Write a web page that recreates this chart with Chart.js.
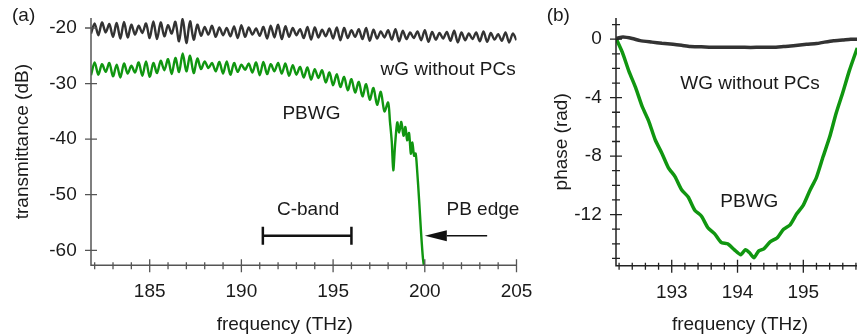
<!DOCTYPE html>
<html>
<head>
<meta charset="utf-8">
<script src="https://cdn.jsdelivr.net/npm/chart.js@4.4.1/dist/chart.umd.min.js"></script>
<style>
  html, body { margin: 0; padding: 0; background: #fff; }
  #wrap { position: relative; width: 857px; height: 335px; overflow: hidden; }
  #chartA { position: absolute; left: 0; top: 0; }
  #chartB { position: absolute; left: 530px; top: 0; }
</style>
</head>
<body>
<div id="wrap">
  <canvas id="chartA" width="540" height="335"></canvas>
  <canvas id="chartB" width="327" height="335"></canvas>
</div>
<script>
// (a) transmittance
const freqA = [
  181.8,
  182, 182.2, 182.4, 182.6, 182.8,
  183, 183.2, 183.4, 183.6, 183.8,
  184, 184.2, 184.4, 184.6, 184.8,
  185, 185.2, 185.4, 185.6, 185.8,
  186, 186.2, 186.4, 186.6, 186.8,
  187, 187.2, 187.4, 187.6, 187.8,
  188, 188.2, 188.4, 188.6, 188.8,
  189, 189.2, 189.4, 189.6, 189.8,
  190, 190.2, 190.4, 190.6, 190.8,
  191, 191.2, 191.4, 191.6, 191.8,
  192, 192.2, 192.4, 192.6, 192.8,
  193, 193.2, 193.4, 193.6, 193.8,
  194, 194.2, 194.4, 194.6, 194.8,
  195, 195.2, 195.4, 195.6, 195.8,
  196, 196.2, 196.4, 196.6, 196.8,
  197, 197.2, 197.4, 197.6, 197.8,
  198, 198.2, 198.4, 198.6, 198.8,
  199, 199.2, 199.4, 199.6, 199.8,
  200, 200.2, 200.4, 200.6, 200.8,
  201, 201.2, 201.4, 201.6, 201.8,
  202, 202.2, 202.4, 202.6, 202.8,
  203, 203.2, 203.4, 203.6, 203.8,
  204, 204.2, 204.4, 204.6, 204.8,
  205
];
const wgA = [
  -21.0,
  -19.2, -21.3, -19.0, -20.8, -19.3,
  -21.6, -19.1, -21.9, -18.9, -21.7,
  -19.4, -21.2, -19.6, -20.9, -19.2,
  -21.8, -18.8, -22.0, -19.0, -21.5,
  -19.5, -21.0, -18.9, -22.4, -18.4,
  -22.7, -18.8, -22.1, -19.4, -21.4,
  -19.8, -21.2, -19.6, -21.6, -19.9,
  -21.3, -20.0, -21.5, -19.7, -21.8,
  -19.5, -21.6, -19.9, -21.2, -20.1,
  -21.4, -19.8, -21.9, -19.6, -21.7,
  -19.4, -22.0, -19.7, -21.6, -20.0,
  -21.3, -20.2, -21.8, -19.8, -22.1,
  -19.9, -21.7, -20.3, -21.5, -20.1,
  -21.9, -19.9, -22.2, -20.0, -21.8,
  -20.4, -21.6, -20.2, -22.0, -20.0,
  -22.3, -20.3, -21.9, -20.6, -21.7,
  -20.4, -22.1, -20.2, -22.4, -20.5,
  -22.0, -20.8, -21.8, -20.6, -22.2,
  -20.4, -22.5, -20.7, -22.1, -20.9,
  -21.9, -20.7, -22.3, -20.5, -22.6,
  -20.8, -22.2, -21.0, -22.0, -20.8,
  -22.4, -20.6, -22.5, -20.9, -22.1,
  -21.1, -22.3, -20.8, -22.6, -21.0,
  -22.2
];
// PBWG follows the same grid up to 197.8 THz, then the band edge
const pbwgA = [
  -28.5,
  -26.2, -28.4, -26.5, -27.9, -26.3,
  -28.7, -26.6, -28.9, -26.4, -28.2,
  -26.8, -28.0, -26.2, -28.6, -26.0,
  -28.8, -26.3, -28.1, -25.9, -27.6,
  -25.6, -28.3, -25.4, -27.9, -24.6,
  -27.8, -25.0, -28.1, -25.5, -27.4,
  -26.0, -27.2, -26.3, -27.8, -26.1,
  -28.2, -26.0, -28.4, -26.3, -27.9,
  -26.6, -27.5, -26.4, -28.0, -26.2,
  -28.5, -26.1, -28.3, -26.5, -27.8,
  -26.3, -28.2, -26.4, -28.6, -26.7,
  -28.4, -27.0, -28.9, -27.1, -29.3,
  -27.4, -29.0, -27.6, -29.8, -28.0,
  -30.3, -28.3, -30.6, -28.8, -31.2,
  -29.2, -31.6, -29.7, -32.3, -30.1,
  -32.9, -30.8, -33.8, -31.5, -35.0
];
const edgeFreqA = [198.0, 198.1, 198.2, 198.28, 198.38, 198.5, 198.6, 198.72, 198.84, 198.94,
  199.04, 199.14, 199.24, 199.32, 199.42, 199.5, 199.58, 199.7, 199.8, 199.9, 199.95];
const edgeA = [-33.4, -36.8, -40.5, -45.6, -41.0, -37.0, -38.8, -36.9, -39.4, -37.8,
  -40.2, -38.9, -42.6, -40.6, -43.0, -42.6, -45.5, -51.5, -57.0, -61.5, -62.7];

// (b) phase
const freqWgB = [192.16, 192.26, 192.4, 192.52, 192.7, 192.85, 193.02, 193.15, 193.28, 193.45,
  193.6, 193.8, 194.04, 194.2, 194.35, 194.54, 194.7, 194.85, 195.05, 195.2,
  195.32, 195.46, 195.6, 195.72, 195.82];
const wgB = [0.05, 0.15, 0.05, -0.1, -0.2, -0.28, -0.35, -0.42, -0.5, -0.52,
  -0.55, -0.55, -0.55, -0.57, -0.55, -0.55, -0.5, -0.45, -0.35, -0.3,
  -0.2, -0.1, -0.05, 0.0, 0.0];
const freqPbwgB = [192.16, 192.25, 192.35, 192.45, 192.55, 192.65, 192.75, 192.85, 192.95, 193.05,
  193.15, 193.25, 193.35, 193.45, 193.55, 193.65, 193.75, 193.85, 193.95, 194.05,
  194.12, 194.18, 194.25, 194.32, 194.4, 194.5, 194.6, 194.7, 194.8, 194.9,
  195.0, 195.1, 195.2, 195.3, 195.4, 195.5, 195.6, 195.7, 195.82];
const pbwgB = [0.0, -0.9, -2.2, -3.3, -4.6, -5.6, -6.9, -7.8, -8.8, -9.4,
  -10.3, -10.8, -11.7, -12.1, -12.9, -13.3, -13.9, -14.0, -14.4, -14.75,
  -14.4, -14.6, -14.95, -14.5, -14.35, -13.85, -13.6, -13.0, -12.7, -11.95,
  -11.35, -10.35, -9.45, -8.05, -6.7, -5.05, -3.65, -2.15, -0.6];

// labelled ticks
const ticksAx = [185, 190, 195, 200, 205];
const ticksAy = [-20, -30, -40, -50, -60];
const ticksBx = [193, 194, 195];
const ticksBy = [0, -4, -8, -12];

const FONT = '"Liberation Sans", Arial, sans-serif';
const TEXT = '#1a1a1a';
const GREEN = '#109610';
const DARK = '#333333';

Chart.defaults.font.family = FONT;
Chart.defaults.font.size = 19;
Chart.defaults.color = TEXT;

function points(xs, ys) {
  return xs.map((x, i) => ({ x: x, y: ys[i] }));
}

// all tick marks (labelled + minor) on a regular step
function buildTicks(from, to, step) {
  return (scale) => {
    const n = Math.round((to - from) / step);
    scale.ticks = [];
    for (let i = 0; i <= n; i++) {
      const v = Math.round((from + i * step) * 1000) / 1000;
      scale.ticks.push({ value: v });
    }
  };
}

function labelOnly(labelled) {
  return (v) => labelled.includes(Math.round(v * 1000) / 1000) ? String(v) : '';
}

// fix the scale box size and drop the label overhang padding
function fixSize(prop, size) {
  return (s) => {
    s[prop] = size;
    s.paddingLeft = s.paddingRight = s.paddingTop = s.paddingBottom = 0;
  };
}

// axes lines with ticks crossing them, plus panel/axis texts
const framePlugin = {
  id: 'frame',
  afterDatasetsDraw(chart, args, opts) {
    const { ctx, chartArea: a, scales: { x, y } } = chart;
    ctx.save();
    ctx.strokeStyle = opts.color;
    ctx.lineWidth = 1.5;
    ctx.beginPath();
    ctx.moveTo(a.left, a.top);
    ctx.lineTo(a.left, a.bottom);
    ctx.lineTo(a.right, a.bottom);
    ctx.stroke();

    ctx.lineWidth = 1.3;
    ctx.beginPath();
    x.ticks.forEach((t) => {
      const px = x.getPixelForValue(t.value);
      const big = t.label !== '';
      ctx.moveTo(px, a.bottom - (big ? 6 : 3));
      ctx.lineTo(px, a.bottom + (big ? 7 : 4));
    });
    y.ticks.forEach((t) => {
      const py = y.getPixelForValue(t.value);
      const big = t.label !== '';
      ctx.moveTo(a.left - (big ? 6 : 4), py);
      ctx.lineTo(a.left + (big ? 6 : 4), py);
    });
    ctx.stroke();

    ctx.fillStyle = TEXT;
    ctx.font = '19px ' + FONT;
    ctx.textBaseline = 'alphabetic';
    ctx.textAlign = 'left';
    ctx.fillText(opts.panel, opts.panelX, 21);
    ctx.textAlign = 'center';
    ctx.fillText(opts.xTitle, (a.left + a.right) / 2 + opts.xTitleShift, 329.5);
    ctx.restore();
  }
};

// curve names, C-band bar and band-edge arrow, placed in data units
const notesPlugin = {
  id: 'notes',
  afterDatasetsDraw(chart, args, opts) {
    const { ctx, scales: { x, y } } = chart;
    ctx.save();
    ctx.fillStyle = TEXT;
    ctx.strokeStyle = '#111';
    ctx.font = '19px ' + FONT;
    ctx.textAlign = 'center';
    ctx.textBaseline = 'middle';
    (opts.texts || []).forEach((n) => {
      ctx.fillText(n.text, x.getPixelForValue(n.x), y.getPixelForValue(n.y));
    });
    if (opts.band) {
      const b = opts.band;
      const x0 = x.getPixelForValue(b.from), x1 = x.getPixelForValue(b.to);
      const py = y.getPixelForValue(b.y);
      ctx.lineWidth = 2.5;
      ctx.beginPath();
      ctx.moveTo(x0, py); ctx.lineTo(x1, py);
      ctx.moveTo(x0, py - 9); ctx.lineTo(x0, py + 9);
      ctx.moveTo(x1, py - 9); ctx.lineTo(x1, py + 9);
      ctx.stroke();
    }
    if (opts.arrow) {
      const r = opts.arrow;
      const tip = x.getPixelForValue(r.tip), base = x.getPixelForValue(r.base);
      const tail = x.getPixelForValue(r.tail), py = y.getPixelForValue(r.y);
      ctx.lineWidth = 1.5;
      ctx.beginPath();
      ctx.moveTo(base, py); ctx.lineTo(tail, py);
      ctx.stroke();
      ctx.fillStyle = '#111';
      ctx.beginPath();
      ctx.moveTo(tip, py);
      ctx.lineTo(base, py - 5.5);
      ctx.lineTo(base, py + 5.5);
      ctx.closePath();
      ctx.fill();
    }
    ctx.restore();
  }
};

function yTitle(text, pad) {
  return { display: true, text: text, padding: { top: pad, bottom: 0 }, font: { size: 19 } };
}

new Chart(document.getElementById('chartA'), {
  type: 'line',
  data: {
    datasets: [
      { label: 'wG without PCs', data: points(freqA, wgA), borderColor: DARK, borderWidth: 2.4, pointRadius: 0, tension: 0.3 },
      { label: 'PBWG', data: points(freqA.slice(0, 81).concat(edgeFreqA), pbwgA.concat(edgeA)), borderColor: GREEN, borderWidth: 2.4, pointRadius: 0, tension: 0.3 }
    ]
  },
  options: {
    responsive: false,
    animation: false,
    devicePixelRatio: 1,
    layout: { autoPadding: false, padding: { top: 18, right: 23.5, left: 0, bottom: 0 } },
    plugins: {
      legend: { display: false },
      tooltip: { enabled: false },
      frame: { color: '#555', panel: '(a)', panelX: 12, xTitle: 'frequency (THz)', xTitleShift: -19 },
      notes: {
        texts: [
          { text: 'wG without PCs', x: 201.27, y: -27.55 },
          { text: 'PBWG', x: 193.82, y: -35.36 },
          { text: 'C-band', x: 193.64, y: -52.79 },
          { text: 'PB edge', x: 203.17, y: -52.79 }
        ],
        band: { from: 191.17, to: 196.0, y: -57.4 },
        arrow: { tip: 200.0, base: 201.2, tail: 203.4, y: -57.4 }
      }
    },
    scales: {
      x: {
        type: 'linear', min: 181.8, max: 205,
        afterBuildTicks: buildTicks(182, 205, 1),
        afterFit: fixSize('height', 69.7),
        grid: { display: false, drawTicks: false },
        border: { display: false },
        ticks: { padding: 15, maxRotation: 0, autoSkip: false, callback: labelOnly(ticksAx) }
      },
      y: {
        type: 'linear', min: -62.7, max: -18.2,
        afterBuildTicks: buildTicks(-60, -20, 10),
        afterFit: fixSize('width', 91),
        grid: { display: false, drawTicks: false },
        border: { display: false },
        title: yTitle('transmittance (dB)', 11.1),
        ticks: { padding: 14.3, autoSkip: false, callback: labelOnly(ticksAy) }
      }
    }
  },
  plugins: [framePlugin, notesPlugin]
});

new Chart(document.getElementById('chartB'), {
  type: 'line',
  data: {
    datasets: [
      { label: 'WG without PCs', data: points(freqWgB, wgB), borderColor: DARK, borderWidth: 3.5, pointRadius: 0, tension: 0.2 },
      { label: 'PBWG', data: points(freqPbwgB, pbwgB), borderColor: GREEN, borderWidth: 3.5, pointRadius: 0, tension: 0.2 }
    ]
  },
  options: {
    responsive: false,
    animation: false,
    devicePixelRatio: 1,
    layout: { autoPadding: false, padding: { top: 18, right: 0, left: 0, bottom: 0 } },
    plugins: {
      legend: { display: false },
      tooltip: { enabled: false },
      frame: { color: '#222', panel: '(b)', panelX: 16.7, xTitle: 'frequency (THz)', xTitleShift: 3.5 },
      notes: {
        texts: [
          { text: 'WG without PCs', x: 194.19, y: -3.02 },
          { text: 'PBWG', x: 194.18, y: -11.1 }
        ]
      }
    },
    scales: {
      x: {
        type: 'linear', min: 192.153, max: 195.816,
        afterBuildTicks: buildTicks(192.2, 195.8, 0.2),
        afterFit: fixSize('height', 69.3),
        grid: { display: false, drawTicks: false },
        border: { display: false },
        ticks: { padding: 15.5, maxRotation: 0, autoSkip: false, callback: labelOnly(ticksBx) }
      },
      y: {
        type: 'linear', min: -15.5, max: 1.45,
        afterBuildTicks: buildTicks(-15, 1, 1),
        afterFit: fixSize('width', 86),
        grid: { display: false, drawTicks: false },
        border: { display: false },
        title: yTitle('phase (rad)', 20.3),
        ticks: { padding: 14.3, autoSkip: false, callback: labelOnly(ticksBy) }
      }
    }
  },
  plugins: [framePlugin, notesPlugin]
});
</script>
</body>
</html>
